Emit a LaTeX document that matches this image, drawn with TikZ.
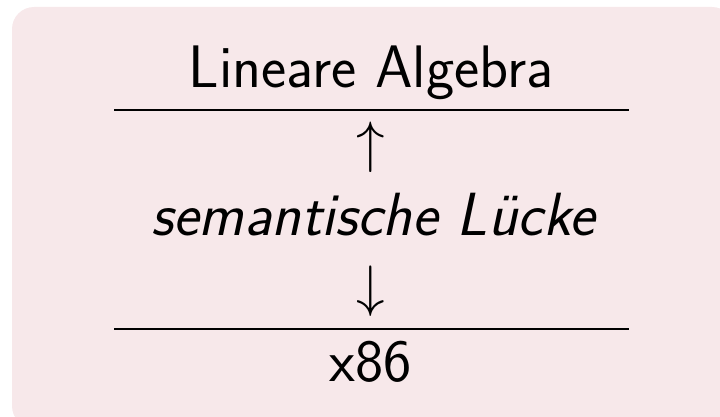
\documentclass[tikz,border=0pt]{standalone}
\usepackage{fontspec}
\definecolor{bgpink}{RGB}{247,232,234}
\begin{document}
\begin{tikzpicture}[x=1pt,y=1pt,
  label text/.style={anchor=base,inner sep=0pt,font=\fontsize{60}{72}\selectfont\sffamily,text=black},
  arrow glyph/.style={anchor=base,inner sep=0pt,font=\fontsize{10}{12}\selectfont,scale=5.7,text=black},
  sepline/.style={line width=2.3pt,draw=black}]
\useasboundingbox (0,0) rectangle (720,416);
\begin{scope}
\clip (0,0) rectangle (720,416);
\fill[bgpink,rounded corners=22pt] (12,-12) rectangle (734,409);
\end{scope}
\node[label text] (top) at (371,329) {Lineare Algebra};
\coordinate (tl) at (114,306);
\coordinate (tr) at (629,306);
\draw[sepline] (tl) -- (tr);
\node[arrow glyph] (up) at (371,255) {$\uparrow$};
\node[label text,font=\fontsize{61}{72}\selectfont\sffamily\itshape] (gap) at (373,181) {semantische Lücke};
\node[arrow glyph] (down) at (371,111) {$\downarrow$};
\coordinate (bl) at (114,87);
\coordinate (br) at (629,87);
\draw[sepline] (bl) -- (br);
\node[label text] (bot) at (371,35) {x86};
\end{tikzpicture}
\end{document}
